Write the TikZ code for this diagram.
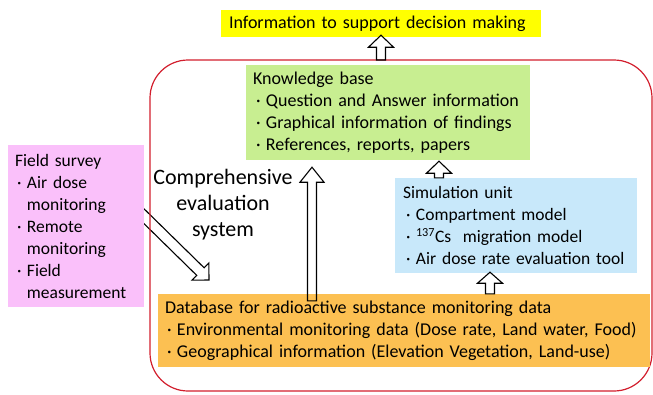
\documentclass[tikz,border=0pt]{standalone}
\usepackage{fontspec}
\setmainfont{Carlito}
\usetikzlibrary{calc,backgrounds}
\definecolor{ybox}{RGB}{255,255,0}
\definecolor{gbox}{RGB}{200,238,145}
\definecolor{bbox}{RGB}{200,232,250}
\definecolor{obox}{RGB}{252,192,82}
\definecolor{pbox}{RGB}{250,192,250}
\definecolor{redline}{RGB}{210,30,45}
\newcommand\jbul{\makebox[13pt][l]{\hspace{3pt}·}}
\newcommand\pbul{\makebox[12pt][l]{\hspace{2pt}·}}
\newcommand\blockarrow[5]{%
  \path ($(#2)!#5!(#1)$) coordinate (bah);
  \draw[hollow] ($(#1)!#3!90:(#2)$) -- ($(bah)!#3!90:(#2)$) -- ($(bah)!#4!90:(#2)$)
    -- (#2) -- ($(bah)!#4!-90:(#2)$) -- ($(bah)!#3!-90:(#2)$) -- ($(#1)!#3!-90:(#2)$) -- cycle;
}
\tikzset{
  box/.style={inner xsep=7pt, inner ysep=0pt, align=left,
    font=\fontsize{18}{22}\selectfont},
  hollow/.style={draw=black, line width=1.1pt, line join=miter},
  bigtext/.style={align=center, font=\fontsize{22}{26}\selectfont}
}
\begin{document}
\begin{tikzpicture}[x=1pt,y=-1pt]
\useasboundingbox (0,0) rectangle (653,394);
% red frame
\draw[redline, line width=1.2pt, rounded corners=38pt] (150,60) rectangle (652,391);
\node[box, fill=ybox, minimum width=318pt, minimum height=27pt, text width=304pt, inner xsep=8pt] (info) at (381,23.5)
  {Information to support decision making};
\node[box, fill=gbox, minimum width=284pt, minimum height=95pt, text width=270pt] (kb) at (388,112.5)
  {Knowledge base\\
   \jbul Question and Answer information\\
   \jbul Graphical information of findings\\
   \jbul References, reports, papers};
\node[box, fill=bbox, minimum width=242pt, minimum height=95pt, text width=230pt, inner xsep=6pt,
      font=\fontsize{17.5}{22}\selectfont] (sim) at (516,225.5)
  {\hspace*{2pt}Simulation unit\\
   \hspace*{2pt}\jbul Compartment model\\
   \hspace*{2pt}\jbul \textsuperscript{137}Cs\ \ migration model\\
   \hspace*{2pt}\jbul Air dose rate evaluation tool};
\node[box, fill=obox, minimum width=492pt, minimum height=73pt, text width=478pt] (db) at (404,330.5)
  {Database for radioactive substance monitoring data\\
   \pbul Environmental monitoring data (Dose rate, Land water, Food)\\
   \pbul Geographical information (Elevation Vegetation, Land-use)};
\node[box, fill=pbox, minimum width=136pt, minimum height=162pt, text width=122pt,
      font=\fontsize{17.5}{22}\selectfont] (fs) at (76,226)
  {Field survey\\
   \pbul Air dose\\
   \hspace*{12pt}monitoring\\
   \pbul Remote\\
   \hspace*{12pt}monitoring\\
   \pbul Field\\
   \hspace*{12pt}measurement};
\node[bigtext] (ces) at (223,205) {Comprehensive\\evaluation\\system};
% arrow end points
\coordinate (x1) at (381,60);
\coordinate (x2) at (439,0);
\coordinate (x3) at (490,0);
\coordinate (x4) at (312,0);
\coordinate (a1s) at (x1);
\coordinate (a1t) at ([yshift=2pt]info.south -| x1);
\coordinate (a2s) at (sim.north -| x2);
\coordinate (a2t) at ([yshift=-1pt]kb.south -| x2);
\coordinate (a3s) at (db.north -| x3);
\coordinate (a3t) at ([yshift=1pt]sim.south -| x3);
\coordinate (a4s) at ([yshift=-7pt]db.north -| x4);
\coordinate (a4t) at ([yshift=-7pt]kb.south -| x4);
\coordinate (a5s) at (130,202.5);
\coordinate (a5t) at (209,280);
\blockarrow{a1s}{a1t}{4.5pt}{12.5pt}{12pt}
\blockarrow{a2s}{a2t}{4.5pt}{12.5pt}{12pt}
\blockarrow{a3s}{a3t}{4.5pt}{12.5pt}{11pt}
\blockarrow{a4s}{a4t}{4.5pt}{12pt}{15pt}
\begin{scope}[on background layer]
\blockarrow{a5s}{a5t}{5.3pt}{12pt}{12pt}
\end{scope}
\end{tikzpicture}
\end{document}
